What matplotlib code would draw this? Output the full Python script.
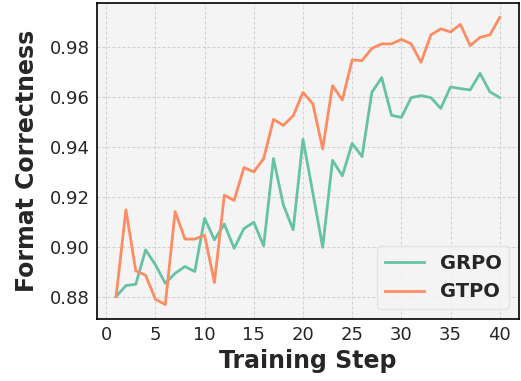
import matplotlib
matplotlib.use("Agg")
import matplotlib.pyplot as plt

steps = list(range(1, 41))
grpo = [0.880, 0.8844, 0.8849, 0.8987, 0.8927, 0.8853, 0.8893, 0.8920, 0.8900, 0.9113,
        0.9027, 0.9090, 0.8993, 0.9072, 0.9097, 0.9003, 0.9352, 0.9167, 0.9067, 0.9429,
        0.9215, 0.8997, 0.9345, 0.9283, 0.9413, 0.9360, 0.9617, 0.9676, 0.9525, 0.9517,
        0.9596, 0.9604, 0.9596, 0.9553, 0.9639, 0.9632, 0.9627, 0.9693, 0.9619, 0.9596]
gtpo = [0.880, 0.9147, 0.8903, 0.8885, 0.8789, 0.8768, 0.9140, 0.9030, 0.9030, 0.9045,
        0.8856, 0.9205, 0.9185, 0.9316, 0.9299, 0.9352, 0.9509, 0.9485, 0.9523, 0.9617,
        0.9571, 0.9391, 0.9644, 0.9587, 0.9747, 0.9744, 0.9793, 0.9811, 0.9811, 0.9829,
        0.9811, 0.9737, 0.9847, 0.9871, 0.9859, 0.9889, 0.9804, 0.9837, 0.9847, 0.9917]
yticks = [0.88, 0.90, 0.92, 0.94, 0.96, 0.98]

fig = plt.figure(figsize=(5.21, 3.81), dpi=100)
ax = fig.add_axes([0.186, 0.163, 0.81, 0.829])
ax.set_facecolor('#f4f4f4')

ax.plot(steps, grpo, color='#66c2a5', linewidth=2, label='GRPO')
ax.plot(steps, gtpo, color='#fc8d62', linewidth=2, label='GTPO')

ax.set_yticks(yticks)
ax.set_yticklabels(["%.2f" % v for v in yticks])
ax.set_xticks(range(0, 41, 5))
ax.tick_params(length=0, labelsize=13, labelcolor='#262626', pad=5)
ax.grid(True, linestyle=(0, (2.7, 1.8)), color='#d2d2d2', linewidth=0.8)
for s in ax.spines.values():
    s.set_color('black')
    s.set_linewidth(1.2)

ax.set_xlabel('Training Step', fontsize=17, fontweight='bold', color='#262626')
ax.set_ylabel('Format Correctness', fontsize=17, fontweight='bold', color='#262626', labelpad=8)

leg = ax.legend(loc='lower right', prop={'size': 14, 'weight': 'bold'}, facecolor='#f4f4f4',
                edgecolor='#e2e2e2', framealpha=0.9)
for t in leg.get_texts():
    t.set_color('#262626')

fig.savefig('out.png', dpi=100)
